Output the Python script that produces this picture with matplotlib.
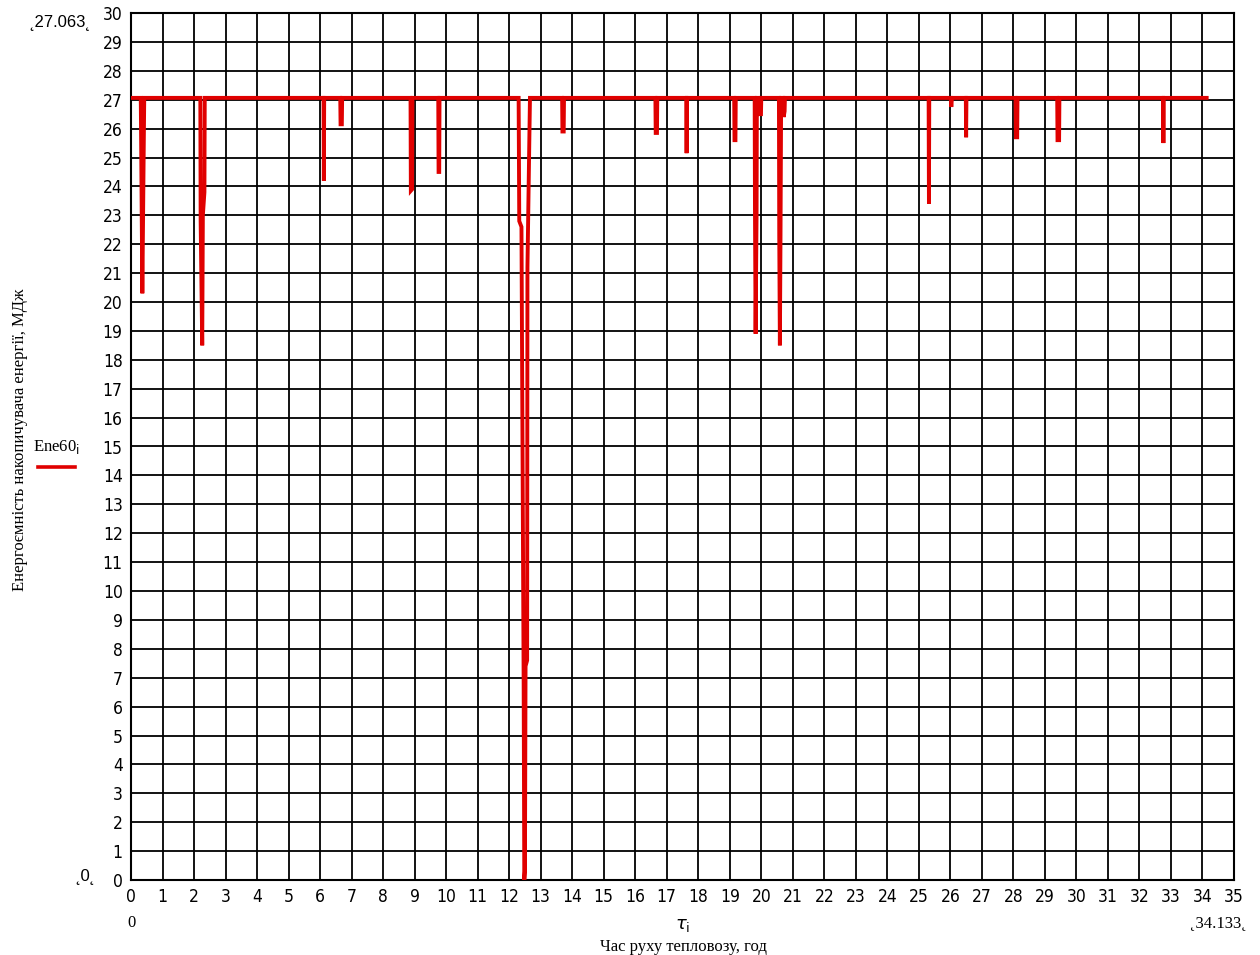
import matplotlib
matplotlib.use("Agg")
import matplotlib.pyplot as plt
import numpy as np

# Time of locomotive movement, h  (tau_i)
tau = [0.0,
       0.31, 0.32, 0.36, 0.40, 0.42,
       2.20, 2.21, 2.26, 2.28, 2.33, 2.34,
       6.11, 6.12, 6.13,
       6.64, 6.65, 6.69, 6.70,
       8.87, 8.88, 8.92, 8.93,
       9.75, 9.76, 9.78, 9.79,
       12.30, 12.32, 12.39, 12.42, 12.46, 12.48, 12.50, 12.52, 12.57, 12.58, 12.63, 12.66,
       13.68, 13.69, 13.73, 13.74,
       16.64, 16.65, 16.69, 16.70,
       17.62, 17.63, 17.64,
       19.14, 19.15, 19.18, 19.19,
       19.79, 19.80, 19.82, 19.85, 19.86, 19.95, 19.96, 19.99, 20.00,
       20.56, 20.57, 20.59, 20.61, 20.63, 20.70, 20.71, 20.74, 20.75,
       25.31, 25.32, 25.33,
       26.01, 26.03, 26.05,
       26.49, 26.50, 26.51,
       28.07, 28.08, 28.12, 28.13,
       29.39, 29.40, 29.45, 29.46,
       32.75, 32.76, 32.77,
       34.133]

# Energy capacity of the storage, MJ  (Ene60_i)
ene60 = [27.063,
         27.063, 25.8, 20.3, 24.9, 27.063,
         27.063, 22.8, 18.5, 23.0, 23.8, 27.063,
         27.063, 24.2, 27.063,
         27.063, 26.15, 26.15, 27.063,
         27.063, 23.85, 23.9, 27.063,
         27.063, 24.5, 24.5, 27.063,
         27.063, 22.8, 22.6, 15.7, 6.7, 0.0, 0.3, 7.4, 7.6, 21.2, 24.9, 27.063,
         27.063, 25.9, 25.9, 27.063,
         27.063, 25.85, 25.85, 27.063,
         27.063, 25.15, 27.063,
         27.063, 25.6, 25.6, 27.063,
         27.063, 23.1, 18.9, 23.0, 27.063, 27.063, 26.5, 26.5, 27.063,
         27.063, 22.3, 18.5, 22.3, 27.063, 27.063, 26.4, 26.6, 27.063,
         27.063, 23.4, 27.063,
         27.063, 26.75, 27.063,
         27.063, 25.7, 27.063,
         27.063, 25.7, 25.7, 27.063,
         27.063, 25.6, 25.6, 27.063,
         27.063, 25.5, 27.063,
         27.063]

x_ticks = list(range(0, 36))
y_ticks = list(range(0, 31))

fig = plt.figure(figsize=(12.6, 9.55), dpi=100)
ax = fig.add_axes([131 / 1260, 1 - 880 / 955, (1234 - 131) / 1260, (880 - 13) / 955])

ax.plot(tau, ene60, color="#e00000", lw=2.8, solid_joinstyle="miter", zorder=3)

ax.set_xlim(0, 35)
ax.set_ylim(0, 30)
ax.set_xticks(x_ticks)
ax.set_yticks(y_ticks)
ax.grid(True, color="black", lw=1.3)
ax.tick_params(length=0, pad=6, labelsize=12.5)
for lab in ax.get_xticklabels() + ax.get_yticklabels():
    lab.set_fontfamily("DejaVu Sans")
    lab.set_fontstretch("condensed")
for sp in ax.spines.values():
    sp.set_linewidth(1.5)
    sp.set_color("black")

serif = "Liberation Serif"
# Mathcad axis-limit markers
fig.text(60 / 1260, 1 - 22 / 955, "˛27.063˛", fontsize=12, family="Liberation Sans",
         ha="center", va="center")
fig.text(85 / 1260, 1 - 876 / 955, "˛0˛", fontsize=12, family="Liberation Sans",
         ha="center", va="center")
fig.text(131 / 1260, 1 - 923 / 955, "0", fontsize=12, family=serif,
         ha="center", va="center")
fig.text(1218 / 1260, 1 - 923 / 955, "˛34.133˛", fontsize=12, family=serif,
         ha="center", va="center")

# axis titles
fig.text(683 / 1260, 1 - 925 / 955, r"$\tau_{\mathrm{i}}$", fontsize=13,
         ha="center", va="center")
fig.text(683 / 1260, 1 - 947 / 955, "Час руху тепловозу, год", fontsize=12,
         family=serif, ha="center", va="center")
fig.text(20 / 1260, 1 - 440 / 955, "Енергоємність накопичувача енергії, МДж",
         fontsize=12, family=serif, rotation=90, ha="center", va="center")

# legend
fig.text(56 / 1260, 1 - 447 / 955, r"Ene60$_{\mathrm{i}}$", fontsize=12,
         family=serif, ha="center", va="center")
fig.add_artist(plt.Line2D([38 / 1260, 75 / 1260], [1 - 467 / 955, 1 - 467 / 955],
                          color="#e00000", lw=2.6, transform=fig.transFigure))

fig.savefig("out.png", dpi=100, facecolor="white")
